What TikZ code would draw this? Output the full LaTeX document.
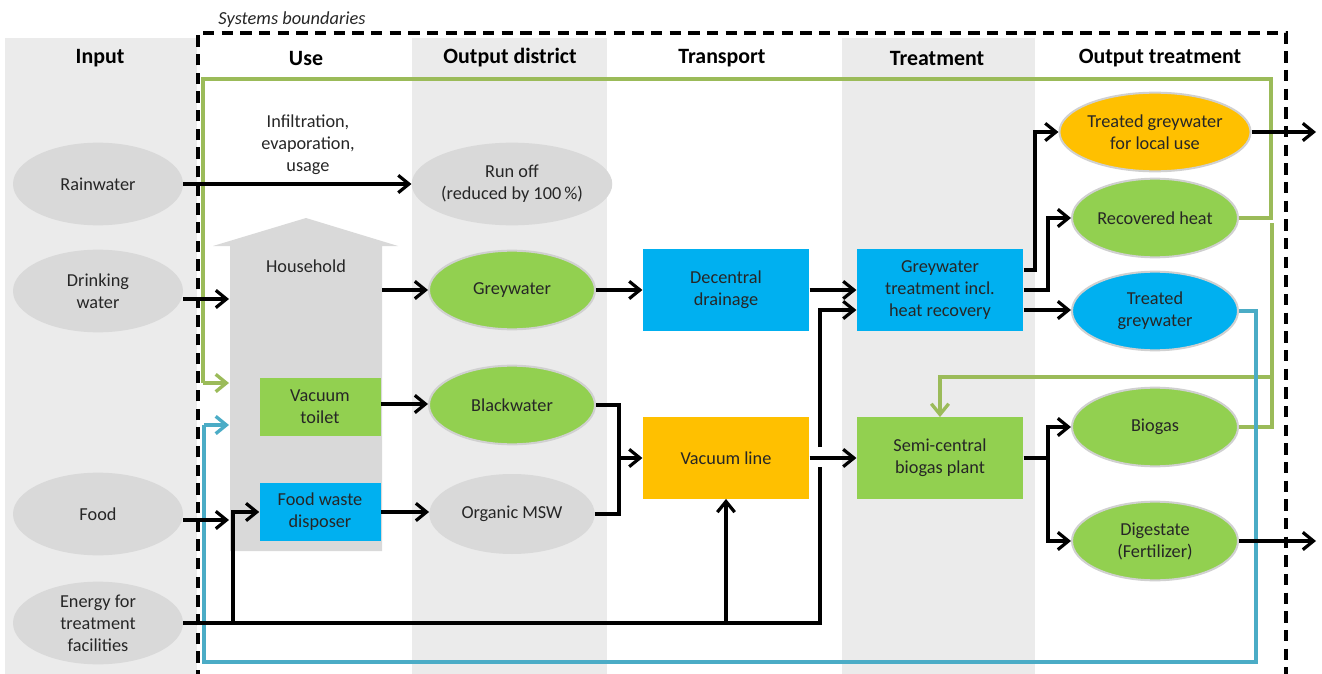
\documentclass[tikz,border=0pt]{standalone}
\usepackage{fontspec}
\setmainfont{Carlito}
\usetikzlibrary{shapes.geometric,arrows.meta,calc}
\definecolor{bgg}{HTML}{EBEBEB}
\definecolor{ellg}{HTML}{D9D9D9}
\definecolor{ellb}{HTML}{D0D0D0}
\definecolor{grn}{HTML}{92D050}
\definecolor{blu}{HTML}{00B0F0}
\definecolor{org}{HTML}{FFC000}
\definecolor{lgrn}{HTML}{9BBB59}
\definecolor{lblu}{HTML}{4BACC6}
\definecolor{txt}{HTML}{262626}
\begin{document}
\begin{tikzpicture}[x=0.75pt,y=-0.75pt,
 every node/.style={font=\fontsize{13.7}{16.5}\selectfont, text=txt, align=center},
 inel/.style={ellipse, fill=ellg, minimum width=127.5pt, minimum height=62pt, inner sep=0pt},
 outel/.style={ellipse, draw=ellb, line width=1.5pt, minimum width=124.5pt, minimum height=59pt, inner sep=0pt},
 smbox/.style={rectangle, minimum width=90.75pt, minimum height=43.5pt, inner sep=0pt},
 bigbox/.style={rectangle, minimum width=125pt, minimum height=61pt, inner sep=0pt},
 hdr/.style={font=\fontsize{16.4}{19}\selectfont\bfseries, text=black},
 tip/.style={-{Straight Barb[length=8pt,width=13pt]}},
 flow/.style={line width=2.4pt, draw=black, tip},
 fline/.style={line width=2.4pt, draw=black},
 gline/.style={line width=2.5pt, draw=lgrn},
 bline/.style={line width=2.5pt, draw=lblu},
]
\useasboundingbox (0,0) rectangle (1322,674);
% column backgrounds
\fill[bgg] (5,38) rectangle (197,674);
\fill[bgg] (412,38) rectangle (607,674);
\fill[bgg] (842,38) rectangle (1035,674);
% system boundary
\draw[line width=3pt, dash pattern=on 8.5pt off 5.5pt] (198,700) -- (198,33) -- (1286,33) -- (1286,700);
\node[font=\fontsize{13.8}{16}\selectfont\itshape] (sb) at (292,20) {Systems boundaries};
% headers
\node[hdr] (h1) at (100,58) {Input};
\node[hdr] (h2) at (306,58) {Use};
\node[hdr] (h3) at (510,58) {Output district};
\node[hdr] (h4) at (722,58) {Transport};
\node[hdr] (h5) at (937,58) {Treatment};
\node[hdr] (h6) at (1160,58) {Output treatment};
% household arrow
\fill[ellg] (230,551) -- (230,246) -- (213,246) -- (306,218) -- (398,246) -- (382,246) -- (382,551) -- cycle;
\node (hh) at (306,266) {Household};
% input nodes
\node[inel] (rain) at (98,184) {Rainwater};
\node[inel] (drink) at (98,291) {Drinking\\water};
\node[inel] (food) at (98,514) {Food};
\node[inel] (energy) at (98,623) {Energy for\\treatment\\facilities};
% use
\node (infil) at (308,145) {Infiltration,\\evaporation,\\usage};
\node[smbox, fill=grn] (vt) at (320,407) {Vacuum\\toilet};
\node[smbox, fill=blu] (fwd) at (320,512) {Food waste\\disposer};
% output district
\node[inel] (runoff) at (512,184) {Run off\\(reduced by 100\,\%)};
\node[outel, fill=grn] (grey) at (512,290) {Greywater};
\node[outel, fill=grn] (black) at (512,405) {Blackwater};
\node[inel, minimum width=124pt, minimum height=60pt] (msw) at (512,514) {Organic MSW};
% transport
\node[bigbox, fill=blu] (dd) at (726,290) {Decentral\\drainage};
\node[bigbox, fill=org] (vl) at (726,458) {Vacuum line};
% treatment
\node[bigbox, fill=blu] (gt) at (940,290) {Greywater\\treatment incl.\\heat recovery};
\node[bigbox, fill=grn] (bp) at (940,458) {Semi-central\\biogas plant};
% output treatment
\node[outel, fill=org] (tgl) at (1155,132) {Treated greywater\\for local use};
\node[outel, fill=grn] (rh) at (1155,218) {Recovered heat};
\node[outel, fill=blu] (tg) at (1155,311) {Treated\\greywater};
\node[outel, fill=grn] (bg) at (1155,427) {Biogas};
\node[outel, fill=grn] (dig) at (1155,541) {Digestate\\(Fertilizer)};
% coordinates for free ends
\coordinate (hhin1) at (229,299);
\coordinate (hhin2) at (229,520);
\coordinate (hhout) at (382,290);
\coordinate (out1) at (1316,132);
\coordinate (out2) at (1316,541);
\coordinate (gin) at (229,383);
\coordinate (bin) at (229,425);
% green loops
\draw[gline] (rh.east) -- (1271,218) |- (203,79) -- (203,383);
\draw[gline, tip] (203,383) -- (gin);
\draw[gline] (bg.east) -- (1272,427) -- (1272,223);
\draw[gline, tip] (1272,377) -| (bp.north);
% blue loop
\draw[bline] (tg.east) -| (1256,662) -| (204,425);
\draw[bline, tip] (204,425) -- (bin);
% black flows
\draw[flow] (rain.east) -- (runoff.west);
\draw[flow] (drink.east |- hhin1) -- (hhin1);
\draw[flow] (food.east |- hhin2) -- (hhin2);
\draw[flow] (hhout) -- (grey.west);
\draw[flow] (vt.east |- 0,404) -- (black.west |- 0,404);
\draw[flow] (fwd.east) -- (msw.west |- fwd.east);
\draw[fline] (energy.east) -- (820,623) -- (820,467);
\draw[flow] (820,447) |- (gt.west |- 0,310);
\draw[flow] (233,623) |- (fwd.west);
\draw[flow] (726,623) -- (vl.south);
\draw[flow] (grey.east) -- (dd.west);
\draw[fline] (black.east) -- (619,405) -- (619,458);
\draw[fline] (msw.east) -- (619,514) -- (619,458);
\draw[flow] (619,458) -- (vl.west);
\draw[flow] (dd.east) -- (gt.west);
\draw[flow] (vl.east) -- (bp.west);
\draw[flow] (gt.east |- 0,270) -- (1035,270) |- (tgl.west);
\draw[flow] (gt.east) -- (1048,290) |- (rh.west);
\draw[flow] (gt.east |- 0,310) -- (tg.west |- 0,310);
\draw[flow] (bp.east) -- (1048,458) |- (bg.west);
\draw[flow] (1048,458) |- (dig.west);
\draw[flow] (tgl.east) -- (out1);
\draw[flow] (dig.east) -- (out2);
\end{tikzpicture}
\end{document}
